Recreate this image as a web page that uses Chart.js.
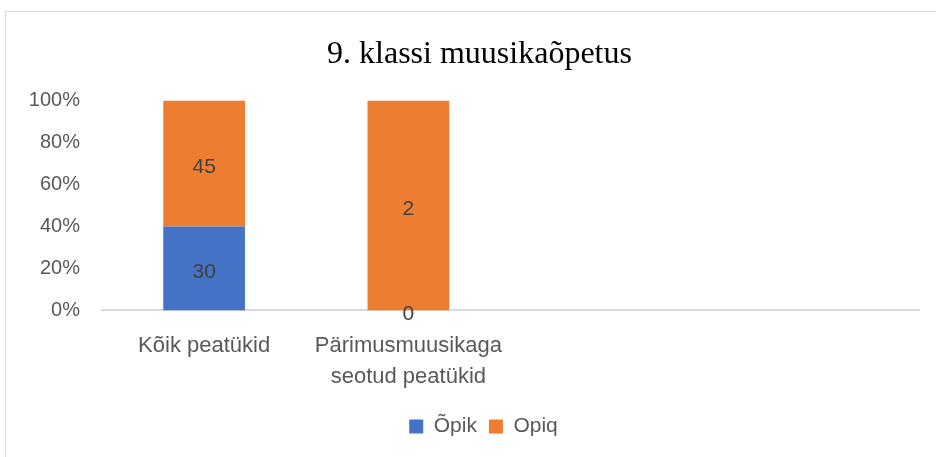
<!DOCTYPE html>
<html>
<head>
<meta charset="utf-8">
<script src="https://cdn.jsdelivr.net/npm/chart.js@4"></script>
<style>
    html, body { margin: 0; padding: 0; background: #fff; }
    #wrap { position: absolute; left: 0; top: 0; width: 936px; height: 457px; }
    #frame { position: absolute; left: 5px; top: 11px; width: 940px; height: 460px; border: 1px solid #d9d9d9; box-sizing: border-box; }
</style>
</head>
<body>
<div id="frame"></div>
<div id="wrap"><canvas id="chart" width="936" height="457"></canvas></div>
<script>
// andmed
const kategooriad = ['Kõik peatükid', ['Pärimusmuusikaga', 'seotud peatükid'], '', ''];
const opik = [30, 0, null, null];
const opiq = [45, 2, null, null];
const yTicks = [0, 20, 40, 60, 80, 100];

// 100% virnastatud tulp: arvuta osakaalud
const toProtsent = (arr) => arr.map((v, i) => {
    if (v === null) return null;
    const total = (opik[i] || 0) + (opiq[i] || 0);
    return total ? v / total * 100 : 0;
});

// väärtuste sildid tulpade keskele
const valueLabels = {
    id: 'valueLabels',
    afterDatasetsDraw(chart) {
        const ctx = chart.ctx;
        ctx.save();
        ctx.font = '21px "Liberation Sans", Arial, sans-serif';
        ctx.fillStyle = '#404040';
        ctx.textAlign = 'center';
        ctx.textBaseline = 'middle';
        chart.data.datasets.forEach((ds, di) => {
            const meta = chart.getDatasetMeta(di);
            meta.data.forEach((bar, i) => {
                const raw = ds.raw[i];
                if (raw === null || raw === undefined) return;
                ctx.fillText(String(raw), bar.x, (bar.y + bar.base) / 2 + 4);
            });
        });
        ctx.restore();
    }
};

// pealkiri ja legend veidi paremale (nagu Excelis, kogu raami keskele)
const nihutaKeskele = {
    id: 'nihutaKeskele',
    afterLayout(chart) {
        if (chart.titleBlock) chart.titleBlock.left += 40;
        if (chart.legend) chart.legend.left += 48;
    }
};

new Chart(document.getElementById('chart').getContext('2d'), {
    type: 'bar',
    data: {
        labels: kategooriad,
        datasets: [
            { label: 'Õpik', data: toProtsent(opik), raw: opik, backgroundColor: '#4472C4', categoryPercentage: 1, barPercentage: 0.4 },
            { label: 'Opiq', data: toProtsent(opiq), raw: opiq, backgroundColor: '#ED7D31', categoryPercentage: 1, barPercentage: 0.4 }
        ]
    },
    options: {
        responsive: false,
        animation: false,
        layout: { padding: { left: 0, right: 17, top: 0, bottom: 10 } },
        plugins: {
            title: {
                display: true,
                text: '9. klassi muusikaõpetus',
                color: '#000',
                font: { family: '"Liberation Serif", "Times New Roman", serif', size: 32, weight: 'normal' },
                padding: { top: 35, bottom: 27 }
            },
            legend: {
                position: 'bottom',
                labels: {
                    color: '#595959',
                    font: { family: '"Liberation Sans", Arial, sans-serif', size: 21 },
                    boxWidth: 14,
                    boxHeight: 14,
                    padding: 12
                }
            },
            tooltip: { enabled: false }
        },
        scales: {
            x: {
                stacked: true,
                grid: { display: false },
                border: { display: true, color: '#d9d9d9', width: 2 },
                ticks: {
                    color: '#595959',
                    font: { family: '"Liberation Sans", Arial, sans-serif', size: 22, lineHeight: 1.4 },
                    padding: 12,
                    maxRotation: 0,
                    autoSkip: false
                }
            },
            y: {
                stacked: true,
                min: 0,
                max: 100,
                afterBuildTicks: (axis) => { axis.ticks = yTicks.map(v => ({ value: v })); },
                afterFit: (axis) => { axis.width = 102; },
                grid: { display: false },
                border: { display: false },
                ticks: {
                    color: '#595959',
                    font: { family: '"Liberation Sans", Arial, sans-serif', size: 20 },
                    padding: 14,
                    callback: (v) => v + '%'
                }
            }
        }
    },
    plugins: [valueLabels, nihutaKeskele]
});
</script>
</body>
</html>
